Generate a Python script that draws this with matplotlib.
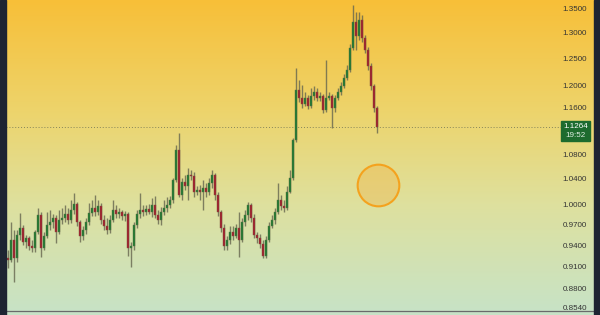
import numpy as np
import matplotlib
matplotlib.use("Agg")
import matplotlib.pyplot as plt
from matplotlib.patches import Rectangle
from matplotlib.colors import LinearSegmentedColormap

# candle data (one candle every ~3px)
first_open = 0.922
closes = [0.919, 0.947, 0.922, 0.955, 0.965, 0.944, 0.950, 0.939, 0.936, 0.959,
          0.984, 0.936, 0.953, 0.969, 0.974, 0.980, 0.959, 0.977, 0.980, 0.986,
          0.977, 0.992, 1.001, 0.974, 0.953, 0.962, 0.974, 0.987, 0.995, 0.989,
          0.998, 0.977, 0.968, 0.962, 0.977, 0.992, 0.986, 0.989, 0.983, 0.986,
          0.936, 0.939, 0.969, 0.986, 0.992, 0.989, 0.993, 0.989, 0.999, 0.984,
          0.977, 0.989, 0.995, 0.999, 1.007, 1.038, 1.087, 1.015, 1.035, 1.029,
          1.046, 1.044, 1.020, 1.023, 1.020, 1.026, 1.020, 1.033, 1.046, 1.015,
          0.989, 0.965, 0.939, 0.947, 0.959, 0.953, 0.965, 0.947, 0.974, 0.984,
          0.999, 0.980, 0.955, 0.950, 0.941, 0.924, 0.947, 0.968, 0.977, 0.989,
          1.007, 0.998, 0.995, 1.020, 1.041, 1.104, 1.191, 1.177, 1.166, 1.177,
          1.162, 1.180, 1.187, 1.177, 1.180, 1.155, 1.177, 1.180, 1.159, 1.177,
          1.187, 1.198, 1.213, 1.228, 1.270, 1.322, 1.294, 1.326, 1.290, 1.266,
          1.236, 1.198, 1.159, 1.1264]
highs = [0.933, 0.974, 0.962, 0.962, 0.987, 0.969, 0.955, 0.953, 0.947, 0.962,
         0.995, 0.989, 0.959, 0.989, 0.992, 0.986, 0.984, 0.992, 0.995, 0.999,
         0.995, 1.007, 1.018, 1.004, 0.977, 0.968, 0.980, 1.002, 1.007, 1.015,
         1.007, 1.002, 0.984, 0.980, 0.984, 1.007, 0.999, 0.995, 0.992, 0.990,
         0.989, 0.944, 0.974, 0.992, 1.018, 0.999, 0.999, 1.001, 1.010, 1.013,
         0.992, 0.996, 1.007, 1.012, 1.013, 1.041, 1.095, 1.115, 1.041, 1.046,
         1.057, 1.054, 1.051, 1.029, 1.030, 1.038, 1.033, 1.041, 1.054, 1.049,
         1.020, 0.992, 0.971, 0.953, 0.968, 0.968, 0.971, 0.989, 0.980, 0.992,
         1.004, 1.002, 0.986, 0.959, 0.956, 0.947, 0.953, 0.974, 0.984, 0.995,
         1.033, 1.015, 1.007, 1.029, 1.054, 1.107, 1.232, 1.210, 1.200, 1.188,
         1.182, 1.195, 1.198, 1.195, 1.188, 1.184, 1.247, 1.188, 1.184, 1.182,
         1.195, 1.206, 1.221, 1.238, 1.278, 1.356, 1.342, 1.342, 1.336, 1.296,
         1.272, 1.241, 1.202, 1.162]
lows = [0.908, 0.916, 0.888, 0.916, 0.947, 0.940, 0.936, 0.933, 0.930, 0.930,
        0.956, 0.923, 0.933, 0.950, 0.962, 0.965, 0.943, 0.956, 0.971, 0.974,
        0.971, 0.972, 0.986, 0.968, 0.944, 0.947, 0.956, 0.969, 0.983, 0.983,
        0.984, 0.971, 0.962, 0.956, 0.958, 0.974, 0.980, 0.980, 0.977, 0.975,
        0.925, 0.909, 0.933, 0.965, 0.980, 0.983, 0.984, 0.986, 0.981, 0.980,
        0.971, 0.969, 0.984, 0.989, 0.995, 1.002, 1.035, 1.012, 1.007, 1.023,
        1.007, 1.038, 1.012, 1.014, 1.007, 0.992, 1.012, 1.014, 1.026, 1.007,
        0.983, 0.959, 0.933, 0.933, 0.941, 0.947, 0.950, 0.923, 0.944, 0.968,
        0.977, 0.974, 0.950, 0.943, 0.936, 0.922, 0.922, 0.944, 0.965, 0.971,
        0.986, 0.992, 0.989, 0.992, 1.017, 1.038, 1.100, 1.169, 1.159, 1.162,
        1.157, 1.159, 1.173, 1.171, 1.171, 1.150, 1.152, 1.173, 1.124, 1.152,
        1.173, 1.182, 1.195, 1.210, 1.224, 1.266, 1.266, 1.286, 1.282, 1.261,
        1.228, 1.191, 1.152, 1.115]
opens = [first_open] + closes[:-1]

price_ticks = [1.35, 1.30, 1.25, 1.20, 1.16, 1.08, 1.04, 1.00, 0.97, 0.94, 0.91, 0.88, 0.854]
last_price = 1.1264
last_time = "19:52"
circle_idx = 123.3
circle_price = 1.030

W, H = 600, 315
fig = plt.figure(figsize=(W / 100, H / 100), dpi=100)

# background gradient (orange top -> mint bottom)
bg = fig.add_axes([0, 0, 1, 1], zorder=0)
cmap = LinearSegmentedColormap.from_list("bg", [
    (0.0, (0.97, 0.75, 0.22)),
    (0.35, (0.93, 0.83, 0.42)),
    (0.65, (0.87, 0.88, 0.62)),
    (1.0, (0.78, 0.89, 0.78)),
])
bg.imshow(np.linspace(0, 1, 256).reshape(-1, 1), aspect="auto", cmap=cmap,
          extent=[0, 1, 0, 1], origin="upper")
bg.axis("off")
# dark side borders
fig.patches.append(Rectangle((0, 0), 6 / W, 1, transform=fig.transFigure,
                             color="#1e2432", zorder=5))
fig.patches.append(Rectangle((594 / W, 0), 6 / W, 1, transform=fig.transFigure,
                             color="#1e2432", zorder=5))

ax = fig.add_axes([6 / W, 4 / H, 588 / W, 311 / H], zorder=2)
ax.patch.set_alpha(0)
ax.set_yscale("log")
ax.set_ylim(0.8499, 1.3666)
ax.set_xlim(-0.667, 195.33)

idx = np.arange(len(closes))
o = np.array(opens)
c = np.array(closes)
up = c >= o
ax.vlines(idx, lows, highs, color="#66664f", lw=1.0, alpha=0.8, zorder=3)
ax.bar(idx[up], (c - o)[up], bottom=o[up], width=0.8, color="#1f7a32",
       edgecolor="#5d6e45", linewidth=0.3, zorder=4)
ax.bar(idx[~up], (c - o)[~up], bottom=o[~up], width=0.8, color="#a3202e",
       edgecolor="#7a5040", linewidth=0.3, zorder=4)

# last price line and label
ax.axhline(last_price, xmin=0, xmax=(561 - 6) / 588, color="#85855a",
           lw=0.7, ls=(0, (1, 2)), zorder=2)
fig.patches.append(Rectangle((561 / W, 1 - 140.7 / H), 29 / W, 20 / H,
                             transform=fig.transFigure, color="#1d6b2e", zorder=6))
fig.text(575.5 / W, 1 - 126.2 / H, f"{last_price:.4f}", color="white", fontsize=5.8,
         family="Liberation Sans", ha="center", va="center", zorder=7)
fig.text(575.5 / W, 1 - 135.6 / H, last_time, color="#dfeee2", fontsize=5.8,
         family="Liberation Sans", ha="center", va="center", zorder=7)

# highlight circle
ax.scatter([circle_idx], [circle_price], s=900, facecolor=(0.96, 0.66, 0.2, 0.3),
           edgecolor="#f4a21e", linewidth=1.5, zorder=5)

ax.yaxis.tick_right()
ax.yaxis.set_minor_locator(matplotlib.ticker.NullLocator())
ax.set_yticks(price_ticks)
ax.set_yticklabels([f"{p:.4f}" for p in price_ticks])
ax.tick_params(axis="y", length=0, pad=-5, labelsize=5.8, labelcolor="#333333")
for lab in ax.get_yticklabels():
    lab.set_horizontalalignment("right")
    lab.set_family("Liberation Sans")
ax.set_xticks([])
for s in ["top", "left", "right"]:
    ax.spines[s].set_visible(False)
ax.spines["bottom"].set_color("#6a6a6a")
ax.spines["bottom"].set_linewidth(0.9)

fig.savefig("out.png", dpi=100)
